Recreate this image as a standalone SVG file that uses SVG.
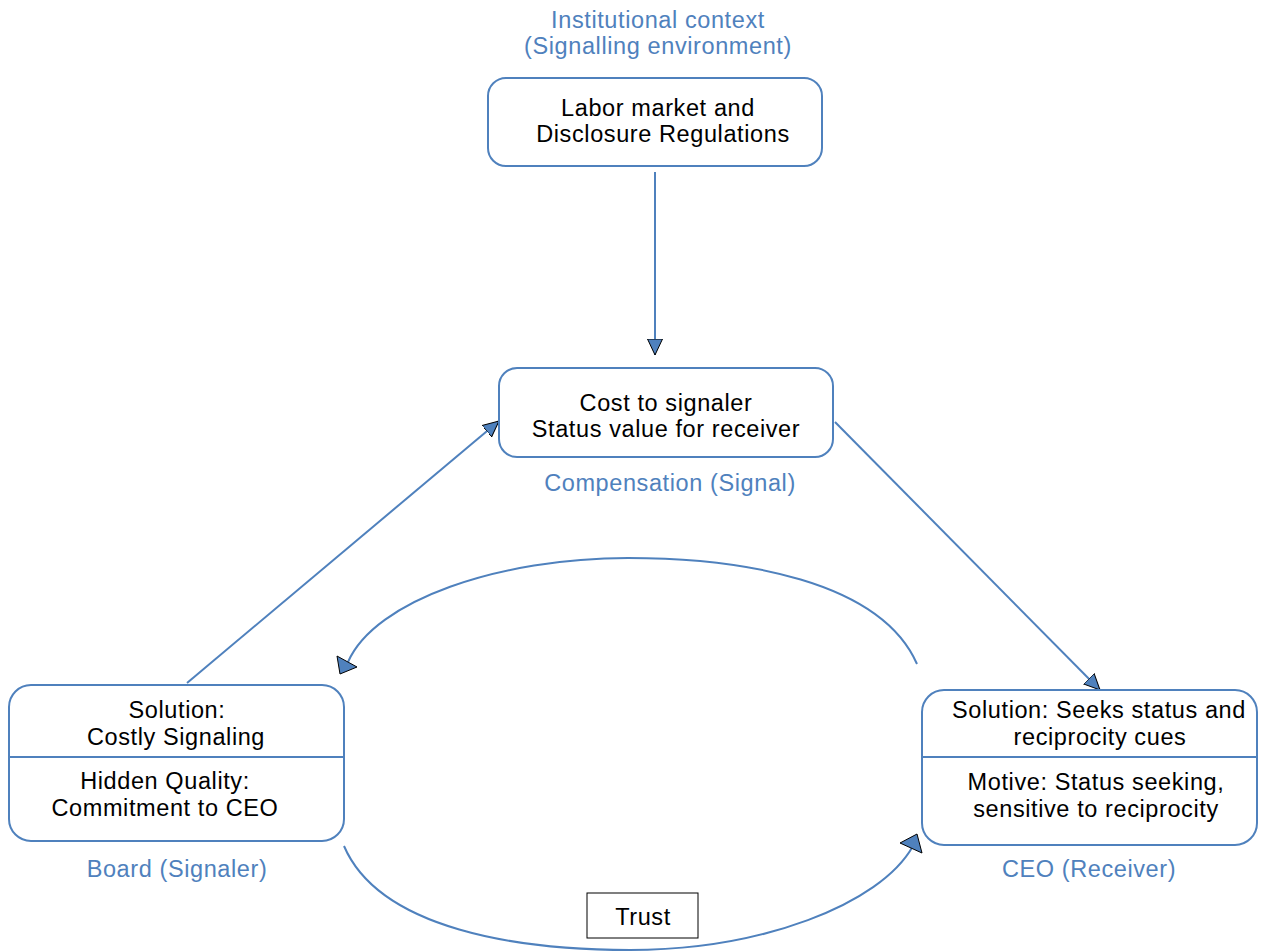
<svg xmlns="http://www.w3.org/2000/svg" width="1263" height="952" viewBox="0 0 1263 952">
<style>
.box{fill:#fff;stroke:#4f81bd;stroke-width:2}
.t{font-family:"Liberation Sans",Arial,sans-serif;font-size:23.5px;letter-spacing:0.6px;fill:#000;text-anchor:middle}
.lb{font-family:"Liberation Sans",Arial,sans-serif;font-size:23.5px;letter-spacing:0.6px;fill:#4f81bd;text-anchor:middle}
.ln{fill:none;stroke:#4f81bd;stroke-width:2}
.ah{fill:#4f81bd;stroke:#000;stroke-width:1;stroke-linejoin:miter}
</style>
<defs>
<marker id="arr" viewBox="0 0 16 16" refX="16" refY="8" markerWidth="16" markerHeight="16" markerUnits="userSpaceOnUse" orient="auto">
<path d="M0,0.5 L16,8 L0,15.5 Z" fill="#4f81bd" stroke="#000" stroke-width="1"/>
</marker>
</defs>
<g id="connectors">
<line class="ln" x1="655" y1="172" x2="655" y2="355" marker-end="url(#arr)"/>
<line class="ln" x1="187" y1="683" x2="499" y2="421" marker-end="url(#arr)"/>
<line class="ln" x1="835" y1="422" x2="1100" y2="690" marker-end="url(#arr)"/>
<path class="ln" d="M917,664 C880,580 740,558 628,558 C500,558 375,600 348,662"/>
<polygon class="ah" points="337,656 357,667 340,674"/>
<path class="ln" d="M344,846 C380,930 520,950 630,950 C760,950 880,905 913,846"/>
<polygon class="ah" points="900,843 917,834 922,853"/>
</g>
<g id="context">
<text class="lb" x="658" y="28">Institutional context</text>
<text class="lb" x="658" y="54">(Signalling environment)</text>
<rect class="box" x="488" y="78" width="334" height="88" rx="18"/>
<text class="t" x="658" y="116">Labor market and</text>
<text class="t" x="663" y="142">Disclosure Regulations</text>
</g>
<g id="compensation">
<rect class="box" x="499" y="368" width="334" height="89" rx="18"/>
<text class="t" x="666" y="411">Cost to signaler</text>
<text class="t" x="666" y="437">Status value for receiver</text>
<text class="lb" x="670" y="491">Compensation (Signal)</text>
</g>
<g id="board">
<rect class="box" x="9" y="685" width="335" height="156" rx="22"/>
<line class="ln" x1="9" y1="757" x2="344" y2="757"/>
<text class="t" x="177" y="718">Solution:</text>
<text class="t" x="176" y="745">Costly Signaling</text>
<text class="t" x="165" y="789">Hidden Quality:</text>
<text class="t" x="165" y="816">Commitment to CEO</text>
<text class="lb" x="177" y="877">Board (Signaler)</text>
</g>
<g id="ceo">
<rect class="box" x="922" y="690" width="335" height="155" rx="22"/>
<line class="ln" x1="922" y1="757" x2="1257" y2="757"/>
<text class="t" x="1099" y="718">Solution: Seeks status and</text>
<text class="t" x="1100" y="745">reciprocity cues</text>
<text class="t" x="1096" y="790">Motive: Status seeking,</text>
<text class="t" x="1096" y="817">sensitive to reciprocity</text>
<text class="lb" x="1089" y="877">CEO (Receiver)</text>
</g>
<g id="trust">
<rect x="587" y="893" width="111" height="45" fill="#fff" stroke="#000" stroke-width="1"/>
<text class="t" x="643" y="925">Trust</text>
</g>
</svg>
